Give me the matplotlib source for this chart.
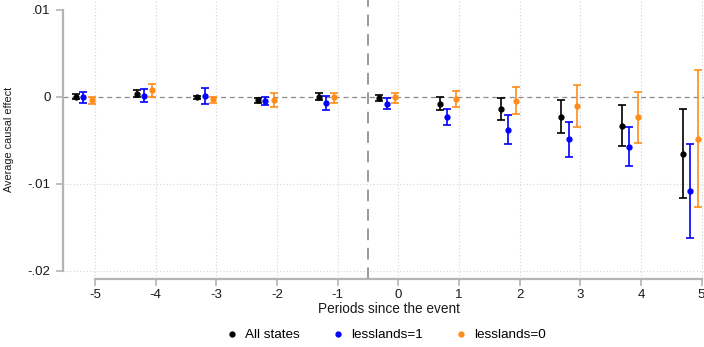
import matplotlib
matplotlib.use('Agg')
import matplotlib.pyplot as plt
from matplotlib.lines import Line2D
import numpy as np

plt.rcParams['font.family'] = ['Liberation Sans', 'DejaVu Sans']

periods = [-5, -4, -3, -2, -1, 0, 1, 2, 3, 4, 5]

# point estimates and 95% bounds per group
all_est = [0.0000, 0.0003, -0.0001, -0.0004, 0.0000, -0.0002, -0.0008, -0.0014, -0.0023, -0.0034, -0.0066]
all_lo = [-0.0003, -0.0001, -0.0003, -0.0007, -0.0004, -0.0005, -0.0016, -0.0027, -0.0042, -0.0057, -0.0117]
all_hi = [0.0003, 0.0007, 0.0001, -0.0002, 0.0004, 0.0002, 0.0000, -0.0002, -0.0004, -0.0010, -0.0014]

ll1_est = [-0.0001, 0.0001, 0.0001, -0.0005, -0.0007, -0.0008, -0.0023, -0.0039, -0.0049, -0.0058, -0.0109]
ll1_lo = [-0.0007, -0.0006, -0.0009, -0.0010, -0.0015, -0.0014, -0.0033, -0.0055, -0.0069, -0.0080, -0.0163]
ll1_hi = [0.0005, 0.0009, 0.0010, 0.0000, 0.0001, -0.0002, -0.0014, -0.0021, -0.0029, -0.0035, -0.0055]

ll0_est = [-0.0004, 0.0007, -0.0003, -0.0004, -0.0001, -0.0001, -0.0003, -0.0005, -0.0011, -0.0024, -0.0049]
ll0_lo = [-0.0009, -0.0001, -0.0007, -0.0012, -0.0007, -0.0007, -0.0012, -0.0020, -0.0035, -0.0053, -0.0127]
ll0_hi = [-0.0001, 0.0015, 0.0000, 0.0004, 0.0004, 0.0004, 0.0006, 0.0011, 0.0013, 0.0005, 0.0030]

series = [
    ("All states", all_est, all_lo, all_hi, "black", -0.31),
    ("lesslands=1", ll1_est, ll1_lo, ll1_hi, "#0000ff", -0.19),
    ("lesslands=0", ll0_est, ll0_lo, ll0_hi, "#ff8c1a", -0.055),
]

fig = plt.figure(figsize=(7.04, 3.47), dpi=100)
ax = fig.add_axes([63 / 704, 68 / 347, 641 / 704, 279 / 347])

gray = "#b4b4b4"
for xv in periods:
    ax.axvline(xv, color="#d4d4d4", lw=0.8, ls=(0, (1, 2)), zorder=0)
for yv in [-0.02, -0.01]:
    ax.axhline(yv, color="#d4d4d4", lw=0.8, ls=(0, (1, 2)), zorder=0)
ax.axhline(0, color="#8c8c8c", lw=0.9, ls=(0, (4, 3)), zorder=1)
ax.axvline(-0.5, color="#9a9a9a", lw=1.4, ls=(0, (6, 4)), zorder=1)

for name, est, lo, hi, col, off in series:
    x = np.array(periods) + off
    est = np.array(est)
    yerr = [est - np.array(lo), np.array(hi) - est]
    ax.errorbar(x, est, yerr=yerr, fmt='o', color=col, ms=3.5,
                elinewidth=1.2, capsize=3, capthick=1.2, zorder=3)

ax.set_xlim(-5.527, 5.04)
ax.set_ylim(-0.02097, 0.0111)

ax.set_xticks(periods)
ax.set_xticklabels([str(p) for p in periods])
ax.set_yticks([-0.02, -0.01, 0, 0.01])
ax.set_yticklabels(["-.02", "-.01", "0", ".01"])

for side in ["top", "right"]:
    ax.spines[side].set_visible(False)
ax.spines["left"].set_bounds(-0.02, 0.01)
ax.spines["bottom"].set_bounds(-5, 5)
for side in ["left", "bottom"]:
    ax.spines[side].set_color(gray)
    ax.spines[side].set_linewidth(1.6)
ax.tick_params(axis="both", colors=gray, labelcolor="#1a1a1a", labelsize=9.5,
               length=5, width=1.2)
ax.tick_params(axis="x", pad=2.5)
ax.tick_params(axis="y", pad=4)

ax.set_ylabel("Average causal effect", fontsize=7.8, color="#1a1a1a", va="center")
ax.yaxis.set_label_coords(-0.0835, 0.5)
fig.text(389 / 704, 1 - 309 / 347, "Periods since the event", ha="center", va="center",
         fontsize=9.8, color="#1a1a1a")

handles = [Line2D([], [], marker='o', ls='none', color=col, ms=3.5)
           for name, est, lo, hi, col, off in series]
labels = [s[0] for s in series]
fig.legend(handles, labels, loc="center", bbox_to_anchor=(386 / 704, 1 - 335 / 347),
           ncol=3, frameon=False, fontsize=9.7, handlelength=0.8, handletextpad=0.6,
           columnspacing=2.4)

fig.savefig("out.png", dpi=100)
